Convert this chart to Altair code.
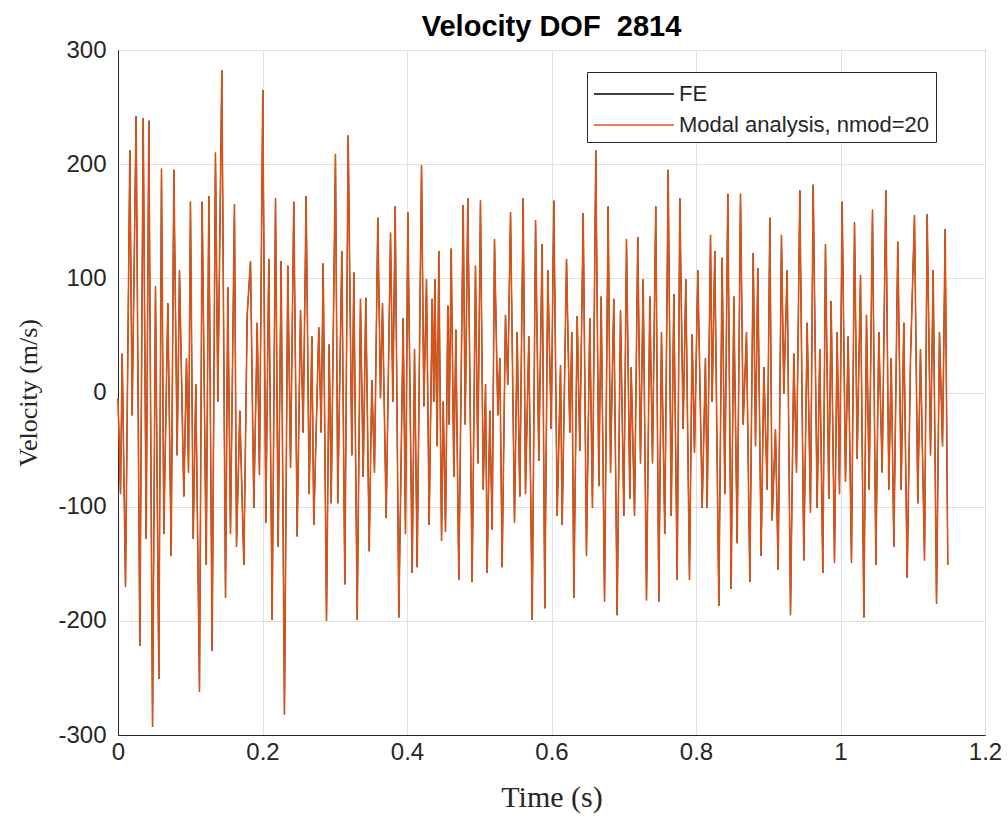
import altair as alt
import pandas as pd

# Time instants (s) of the turning points
time_s = [
    0.0000, 0.0035, 0.0058, 0.0104, 0.0164, 0.0196, 0.0251, 0.0302, 0.0349, 0.0390,
    0.0427, 0.0478, 0.0519, 0.0565, 0.0602, 0.0634, 0.0690, 0.0736, 0.0773, 0.0819,
    0.0851, 0.0911, 0.0948, 0.0976, 0.1003, 0.1041, 0.1077, 0.1128, 0.1165, 0.1221,
    0.1257, 0.1303, 0.1349, 0.1382, 0.1437, 0.1488, 0.1520, 0.1557, 0.1612, 0.1640,
    0.1686, 0.1742, 0.1788,
    0.1834, 0.1880, 0.1927, 0.1958, 0.2004, 0.2046, 0.2087, 0.2134, 0.2180, 0.2217,
    0.2258, 0.2304, 0.2350, 0.2388, 0.2433, 0.2480, 0.2526, 0.2563, 0.2604, 0.2646,
    0.2683, 0.2710, 0.2779, 0.2812, 0.2840, 0.2886, 0.2923, 0.2951, 0.3010, 0.3042,
    0.3098, 0.3139, 0.3186, 0.3236, 0.3264, 0.3311, 0.3356, 0.3394, 0.3430, 0.3477,
    0.3513, 0.3550, 0.3596, 0.3633, 0.3661, 0.3712, 0.3772, 0.3804, 0.3837,
    0.3887, 0.3947, 0.3979, 0.4011, 0.4072, 0.4104, 0.4141, 0.4201, 0.4233, 0.4270,
    0.4307, 0.4349, 0.4371, 0.4385, 0.4418, 0.4440, 0.4478, 0.4501, 0.4533, 0.4565,
    0.4584, 0.4612, 0.4648, 0.4676, 0.4717, 0.4778, 0.4806, 0.4842, 0.4902, 0.4948,
    0.4980, 0.5017, 0.5055, 0.5087, 0.5110, 0.5146, 0.5179, 0.5211, 0.5257, 0.5285,
    0.5317, 0.5363, 0.5395, 0.5433, 0.5488, 0.5525, 0.5561, 0.5608, 0.5640, 0.5686,
    0.5733,
    0.5779, 0.5824, 0.5871, 0.5907, 0.5949, 0.5996, 0.6032, 0.6079, 0.6125, 0.6148,
    0.6208, 0.6253, 0.6281, 0.6309, 0.6356, 0.6392, 0.6439, 0.6484, 0.6530, 0.6567,
    0.6613, 0.6655, 0.6688, 0.6734, 0.6784, 0.6817, 0.6862, 0.6909, 0.6955, 0.7001,
    0.7038, 0.7084, 0.7103, 0.7149, 0.7194, 0.7232, 0.7269, 0.7315, 0.7361, 0.7398,
    0.7443, 0.7485, 0.7522, 0.7568, 0.7615, 0.7657, 0.7693, 0.7740, 0.7776,
    0.7822, 0.7859, 0.7910, 0.7947, 0.7979, 0.8025, 0.8086, 0.8131, 0.8155, 0.8201,
    0.8224, 0.8260, 0.8316, 0.8362, 0.8399, 0.8440, 0.8487, 0.8523, 0.8570, 0.8616,
    0.8653, 0.8699, 0.8745, 0.8792, 0.8824, 0.8855, 0.8902, 0.8939, 0.8985, 0.9022,
    0.9054, 0.9100, 0.9137, 0.9183, 0.9215, 0.9262, 0.9308, 0.9354, 0.9391, 0.9437,
    0.9492, 0.9539, 0.9585, 0.9622,
    0.9677, 0.9713, 0.9755, 0.9792, 0.9838, 0.9871, 0.9917, 0.9954, 0.9986, 1.0023,
    1.0069, 1.0106, 1.0152, 1.0194, 1.0231, 1.0277, 1.0323, 1.0360, 1.0397, 1.0443,
    1.0489, 1.0530, 1.0577, 1.0627, 1.0669, 1.0702, 1.0738, 1.0793, 1.0840, 1.0876,
    1.0923, 1.0969, 1.1024, 1.1070, 1.1107, 1.1163, 1.1200, 1.1246, 1.1283, 1.1329,
    1.1370, 1.1412, 1.1449, 1.1485,
]

# Velocity (m/s) of the modal-analysis curve at those instants
modal_velocity = [
    -5, -89, 34, -170, 212, -20, 242, -222, 240, -128,
    238, -293, 93, -251, 196, -124, 78, -143, 195, -55,
    107, -91, 30, -70, 167, -128, 7, -262, 167, -151,
    172, -226, 210, -8, 282, -180, 92, -124, 165, -135,
    -16, -151, 68,
    115, -101, 61, -72, 265, -114, 117, -199, 170, -135,
    115, -282, 111, -66, 167, -126, 72, -35, 172, -89,
    49, -116, 57, -35, 113, -200, 42, -97, 209, -97,
    124, -168, 225, -55, 105, -199, 82, -74, 83, -139,
    11, -70, 153, -5, 78, -110, 140, -8, 163,
    -197, 65, -124, 158, -158, 38, -153, 199, -12, 99,
    -116, 82, -8, 99, -47, 124, -130, -8, -122, 76,
    -28, 126, -74, 55, -164, 164, -28, 170, -166, 111,
    -62, 168, -85, 7, -158, -16, -120, 134, -20, 30,
    -153, 68, 7, 158, -114, 53, -91, 170, -89, 49,
    -199,
    151, -60, 130, -189, 107, -32, 168, -108, 24, -116,
    117, -35, 53, -180, 67, -51, 157, -143, 65, -101,
    212, -82, 84, -183, 163, -70, 82, -195, 72, -108,
    134, -93, 22, -108, 136, -62, 99, -182, 84, -62,
    163, -183, 53, -124, 195, -108, 86, -164, 170,
    -32, 99, -164, 51, -53, 107, -101, 30, -101, 138,
    -8, 124, -187, 118, -89, 174, -172, 84, -132, 174,
    -28, 53, -166, 122, -47, 109, -143, 22, -85, 153,
    -112, -32, -155, 138, -1, 107, -195, 34, -70, 177,
    -147, 61, -105, 182,
    -101, 38, -158, 130, -93, 80, -149, 53, -89, 167,
    -78, 49, -149, 149, -58, 103, -197, 68, -85, 160,
    -151, 53, -70, 177, -85, 30, -135, 132, -85, 61,
    -162, 30, 155, -97, 38, -147, 156, -55, 107, -185,
    53, -47, 143, -151,
]

# The FE curve coincides with the modal curve at this resolution
fe_velocity = list(modal_velocity)

series_names = ["FE", "Modal analysis, nmod=20"]
series_colors = ["#000000", "#D95319"]
x_ticks = [0, 0.2, 0.4, 0.6, 0.8, 1.0, 1.2]
y_ticks = [-300, -200, -100, 0, 100, 200, 300]

df_fe = pd.DataFrame({"t": time_s, "v": fe_velocity, "series": series_names[0]})
df_modal = pd.DataFrame({"t": time_s, "v": modal_velocity, "series": series_names[1]})

x_enc = alt.X(
    "t:Q",
    scale=alt.Scale(domain=[0, 1.2], nice=False),
    axis=alt.Axis(
        values=x_ticks, labelExpr="'' + datum.value", title="Time (s)",
        titleFont="Liberation Serif", titleFontSize=30, titleFontWeight="normal",
        titleColor="#262626", titleY=62, titleBaseline="middle",
        labelFont="Liberation Sans", labelFontSize=24, labelColor="#262626",
        labelPadding=5, ticks=False, domainColor="#262626",
        gridColor="#e0e0e0", labelFlush=False,
    ),
)
y_enc = alt.Y(
    "v:Q",
    scale=alt.Scale(domain=[-300, 300], nice=False),
    axis=alt.Axis(
        values=y_ticks, labelExpr="'' + datum.value", title="Velocity (m/s)",
        titleFont="Liberation Serif", titleFontSize=26, titleFontWeight="normal",
        titleColor="#262626", titleX=-90, titleY=342.5, titleAlign="center",
        titleBaseline="middle", titleAngle=270,
        labelFont="Liberation Sans", labelFontSize=24, labelColor="#262626",
        labelPadding=12, ticks=False, domainColor="#262626",
        gridColor="#e0e0e0", labelFlush=False,
    ),
)
color_enc = alt.Color(
    "series:N",
    scale=alt.Scale(domain=series_names, range=series_colors),
    title=None,
    legend=alt.Legend(
        orient="none", legendX=469, legendY=22,
        symbolType="M-1,0H4.33", symbolSize=900, symbolStrokeWidth=1.5,
        rowPadding=4, labelFont="Liberation Sans", labelFontSize=22,
        labelLimit=500, labelColor="#262626", labelOffset=54, padding=6,
        strokeColor="#262626", fillColor="white",
    ),
)

fe_line = alt.Chart(df_fe).mark_line(strokeWidth=1.0).encode(
    x=x_enc, y=y_enc, color=color_enc
)
modal_line = alt.Chart(df_modal).mark_line(strokeWidth=1.6).encode(
    x=x_enc, y=y_enc, color=color_enc
)

chart = (
    alt.layer(fe_line, modal_line)
    .properties(
        width=867,
        height=685,
        padding={"left": 118, "top": 50, "right": 23, "bottom": 84},
        autosize=alt.AutoSizeParams(type="none"),
        background="white",
        title=alt.TitleParams(
            "Velocity DOF\u00a0 2814", font="Liberation Sans", fontSize=29,
            fontWeight="bold", color="#000000", anchor="middle", offset=-4,
        ),
    )
    .configure_view(stroke="#262626", strokeWidth=1)
)

chart.save("out.html", embed_options={"renderer": "svg", "actions": False})
